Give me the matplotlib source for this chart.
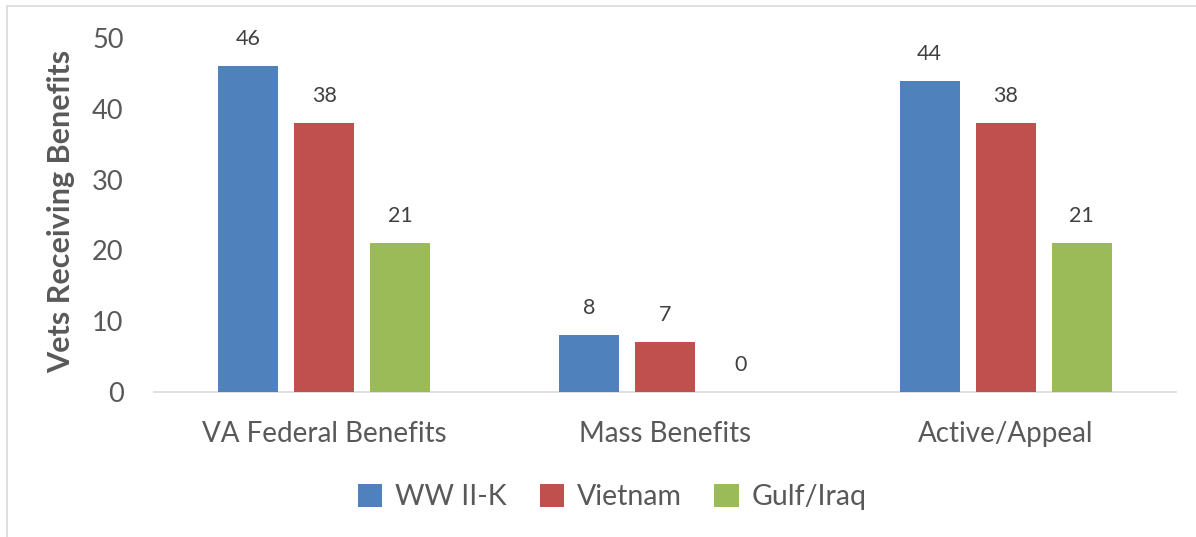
import matplotlib.pyplot as plt
import numpy as np
from matplotlib.patches import Rectangle

categories = ['VA Federal Benefits', 'Mass Benefits', 'Active/Appeal']
series = ['WW II-K', 'Vietnam', 'Gulf/Iraq']
ww2k = [46, 8, 44]
vietnam = [38, 7, 38]
gulf = [21, 0, 21]
yticks = [0, 10, 20, 30, 40, 50]

COLORS = ['#4F81BD', '#C0504D', '#9BBB59']
TXT = '#595959'
plt.rcParams['font.family'] = ['Lato', 'DejaVu Sans']

fig = plt.figure(figsize=(11.96, 5.37), dpi=100, facecolor='white')
ax = fig.add_axes([0.1288, 0.270, 0.8545, 0.659])

x = np.arange(len(categories))
width = 0.176
step = 0.223
for i, (name, vals) in enumerate(zip(series, [ww2k, vietnam, gulf])):
    pos = x + (i - 1) * step
    bars = ax.bar(pos, vals, width, color=COLORS[i], label=name, zorder=3)
    for b, v in zip(bars, vals):
        ax.text(b.get_x() + b.get_width() / 2, v + 2.4, str(v),
                ha='center', va='bottom', fontsize=15.5, color='#404040')

ax.set_xlim(-0.5, 2.5)
ax.set_ylim(0, 50)
ax.set_yticks(yticks)
ax.set_xticks(x)
ax.set_xticklabels(categories)
ax.tick_params(axis='both', length=0, colors=TXT)
ax.tick_params(axis='y', pad=22, labelsize=19.5)
ax.tick_params(axis='x', pad=21, labelsize=20)
for s in ['top', 'right', 'left']:
    ax.spines[s].set_visible(False)
ax.spines['bottom'].set_color('#D9D9D9')
ax.spines['bottom'].set_linewidth(1.2)

ax.set_ylabel('Vets Receiving Benefits', fontsize=22, fontweight='bold',
              color=TXT)
ax.yaxis.set_label_coords(-0.077, 0.51)

leg = fig.legend(loc='center', bbox_to_anchor=(0.512, 0.074), ncol=3,
                 frameon=False, fontsize=20.5, handlelength=0.85, handleheight=0.85,
                 handletextpad=0.45, columnspacing=1.15)
for t in leg.get_texts():
    t.set_color(TXT)

# chart-area border (only top/left visible in the crop)
fig.patches.append(Rectangle((7 / 1196, -0.1), 1.2, 1.1 - 6 / 537,
                             transform=fig.transFigure, fill=False,
                             edgecolor='#D9D9D9', linewidth=1.2))

fig.savefig('out.png', dpi=100, facecolor='white')
